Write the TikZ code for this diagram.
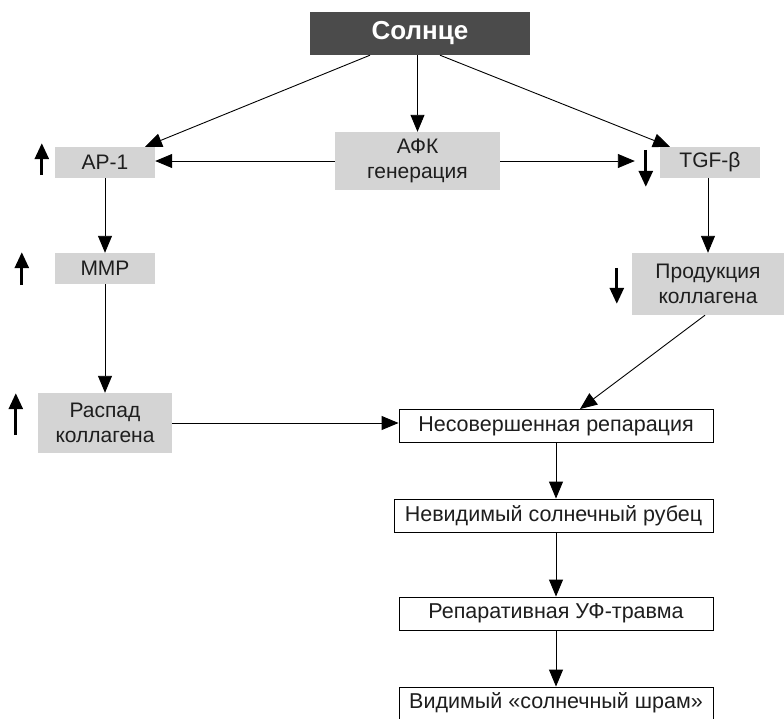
\documentclass[tikz,border=0pt]{standalone}
\usepackage{fontspec}
\setmainfont{Liberation Sans}
\usetikzlibrary{arrows.meta}
\definecolor{sundark}{HTML}{4B4B4B}
\definecolor{boxgray}{HTML}{D4D4D4}
\definecolor{txt}{HTML}{1E1E1E}
\begin{document}
\begin{tikzpicture}[x=1pt,y=-1pt,
    sunbox/.style={fill=sundark, text=white, font=\fontsize{26}{28}\selectfont\bfseries, inner sep=0pt},
    graybox/.style={fill=boxgray, text=txt, font=\fontsize{21}{25}\selectfont, align=center, inner sep=0pt},
    whitebox/.style={draw=black, line width=0.9pt, fill=white, text=txt, font=\fontsize{21.5}{24}\selectfont, inner sep=0pt, minimum width=314pt, minimum height=33pt},
    conn/.style={line width=0.9pt, -{Triangle[length=17pt,width=14pt]}},
    ind/.style={line width=2.8pt, -{Triangle[length=16pt,width=14pt]}}]
    \useasboundingbox (0,0) rectangle (784,718);
    \node[sunbox, minimum width=220pt, minimum height=43pt](sun) at (420,33.5){Солнце};
    \node[graybox, minimum width=165pt, minimum height=58pt](afk) at (417.5,161){АФК\\генерация};
    \node[graybox, minimum width=100pt, minimum height=31pt](ap1) at (105,162.5){AP-1};
    \node[graybox, minimum width=100pt, minimum height=31pt](mmp) at (105,268.5){MMP};
    \node[graybox, minimum width=134pt, minimum height=60pt](raspad) at (105,423){Распад\\коллагена};
    \node[graybox, minimum width=100pt, minimum height=31pt](tgf) at (710,162.5){TGF-β};
    \node[graybox, minimum width=152pt, minimum height=62pt](prod) at (708,284){Продукция\\коллагена};
    \node[whitebox](nesov) at (556,426){Несовершенная репарация};
    \node[whitebox, minimum width=319pt](nevid) at (553.5,515.5){Невидимый солнечный рубец};
    \node[whitebox](repar) at (556,613.5){Репаративная УФ-травма};
    \node[whitebox, minimum height=32pt](vidim) at (556,703){Видимый «солнечный шрам»};
    % from the sun
    \draw[conn] ([xshift=-50pt]sun.south) -- ([xshift=40pt]ap1.north);
    \draw[conn] (sun.south -| afk.north) -- (afk.north);
    \draw[conn] ([xshift=20pt]sun.south) -- ([xshift=-40pt]tgf.north);
    \draw[conn] (afk.west) -- (afk.west -| ap1.east);
    \draw[conn] (afk.east) -- ([xshift=-25pt]afk.east -| tgf.west);
    % left branch
    \draw[conn] (ap1.south) -- (mmp.north);
    \draw[conn] (mmp.south) -- (raspad.north);
    \draw[conn] (raspad.east) -- (raspad.east -| nesov.west);
    % right branch
    \draw[conn] (tgf.south -| prod.north) -- (prod.north);
    \draw[conn] ([xshift=-3pt]prod.south) -- ([xshift=24pt]nesov.north);
    % chain
    \draw[conn] (nesov.south) -- (nesov.south |- nevid.north);
    \draw[conn] (nesov.south |- nevid.south) -- (nesov.south |- repar.north);
    \draw[conn] (repar.south) -- (vidim.north);
    % up and down marks
    \draw[ind] ([shift={(-13,-3)}]ap1.south west) -- ++(0,-32);
    \draw[ind] ([shift={(-33,1)}]mmp.south west) -- ++(0,-33);
    \draw[ind] ([shift={(-22,-18)}]raspad.south west) -- ++(0,-42);
    \draw[ind] ([shift={(-14,3)}]tgf.north west) -- ++(0,37);
    \draw[ind] ([shift={(-15,15)}]prod.north west) -- ++(0,36);
\end{tikzpicture}
\end{document}
